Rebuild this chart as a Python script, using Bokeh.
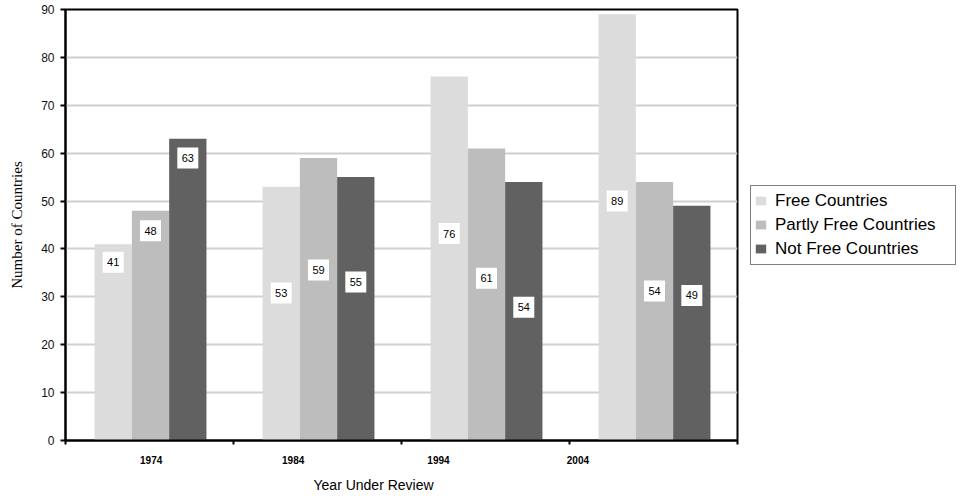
from bokeh.plotting import figure
from bokeh.models import ColumnDataSource, FixedTicker, Legend, LegendItem, Title, Range1d
from bokeh.core.properties import value
from bokeh.transform import dodge
from bokeh.embed import file_html
from bokeh.resources import INLINE

# ---- data ----
years = ["1974", "1984", "1994", "2004"]
free = [41, 53, 76, 89]
partly_free = [48, 59, 61, 54]
not_free = [63, 55, 54, 49]
# height (in data units) at which each value label sits in the original
free_label_y = [37.2, 30.8, 43.2, 50.0]
partly_label_y = [43.8, 35.6, 33.9, 31.2]
not_free_label_y = [59.0, 33.1, 27.8, 30.3]
# where the year labels sit along the category axis in the original
year_label_x = [0.51, 1.355, 2.22, 3.05]
boundaries = [0, 1, 2, 3, 4]
y_ticks = list(range(0, 100, 10))

FONT = "Liberation Sans"
C_FREE, C_PART, C_NOT = "#dcdcdc", "#bdbdbd", "#616161"
BW = 0.222

src = ColumnDataSource(dict(
    x=[i + 0.506 for i in range(len(years))],
    free=free, partly=partly_free, notfree=not_free,
    free_ly=free_label_y, partly_ly=partly_label_y, notfree_ly=not_free_label_y,
    free_t=[str(v) for v in free], partly_t=[str(v) for v in partly_free],
    notfree_t=[str(v) for v in not_free],
))

p = figure(frame_width=672, frame_height=431, x_range=Range1d(0, 4), y_range=Range1d(0, 90),
           output_backend="svg", toolbar_location=None,
           min_border_left=65, min_border_right=0, min_border_top=9, min_border_bottom=49)
p.background_fill_color = "white"
p.border_fill_color = "white"
p.outline_line_color = "black"
p.outline_line_width = 2

renderers = []
for key, col, off in [("free", C_FREE, -BW), ("partly", C_PART, 0.0), ("notfree", C_NOT, BW)]:
    r = p.vbar(x=dodge("x", off), top=key, width=BW, source=src,
               fill_color=col, line_color=None)
    renderers.append(r)
for key, off in [("free", -BW), ("partly", 0.0), ("notfree", BW)]:
    p.rect(x=dodge("x", off), y=key + "_ly", width=21, height=21,
           width_units="screen", height_units="screen", source=src,
           fill_color="white", line_color=None)
    p.text(x=dodge("x", off), y=key + "_ly", text=key + "_t", source=src,
           text_align="center", text_baseline="middle",
           text_font=value(FONT), text_font_size="11px", text_color="black")

# x axis
xa = p.xaxis[0]
xa.ticker = FixedTicker(ticks=year_label_x, minor_ticks=boundaries)
xa.major_label_overrides = {x: y for x, y in zip(year_label_x, years)}
xa.major_tick_out = 0
xa.major_tick_in = 0
xa.minor_tick_out = 4
xa.minor_tick_in = 0
xa.minor_tick_line_width = 2
xa.minor_tick_line_color = "black"
xa.axis_line_width = 2
xa.axis_line_color = "black"
xa.major_label_text_font = FONT
xa.major_label_text_font_size = "10px"
xa.major_label_text_font_style = "bold"
xa.major_label_text_color = "black"
xa.major_label_standoff = 11

# y axis
ya = p.yaxis[0]
ya.ticker = FixedTicker(ticks=y_ticks)
ya.major_tick_out = 5
ya.major_tick_in = 0
ya.minor_tick_out = 0
ya.minor_tick_in = 0
ya.major_tick_line_width = 2
ya.major_tick_line_color = "black"
ya.axis_line_width = 2
ya.axis_line_color = "black"
ya.major_label_text_font = FONT
ya.major_label_text_font_size = "12px"
ya.major_label_text_color = "#111111"
ya.major_label_standoff = 6
ya.axis_label = "Number of Countries"
ya.axis_label_text_font = "Liberation Serif"
ya.axis_label_text_font_size = "15px"
ya.axis_label_text_font_style = "normal"
ya.axis_label_text_color = "black"
ya.axis_label_standoff = 13

p.xgrid.visible = False
p.ygrid.grid_line_color = "#cfcfcf"
p.ygrid.grid_line_width = 2
p.ygrid.ticker = FixedTicker(ticks=y_ticks)

t = Title(text="Year Under Review", align="left", offset=248, standoff=16,
          text_font=FONT, text_font_size="14px", text_font_style="normal",
          text_color="black")
p.add_layout(t, "below")

legend = Legend(items=[
    LegendItem(label="Free Countries", renderers=[renderers[0]]),
    LegendItem(label="Partly Free Countries", renderers=[renderers[1]]),
    LegendItem(label="Not Free Countries", renderers=[renderers[2]]),
], location="center_left", margin=13, padding=3, spacing=0,
    label_height=24, glyph_width=13, glyph_height=11, label_standoff=8,
    label_width=177, border_line_color="black", border_line_width=1.5,
    label_text_font=FONT, label_text_font_size="17px", label_text_color="black",
    background_fill_color="white", background_fill_alpha=1.0)
p.add_layout(legend, "right")

open("out.html", "w").write(file_html(p, INLINE))
